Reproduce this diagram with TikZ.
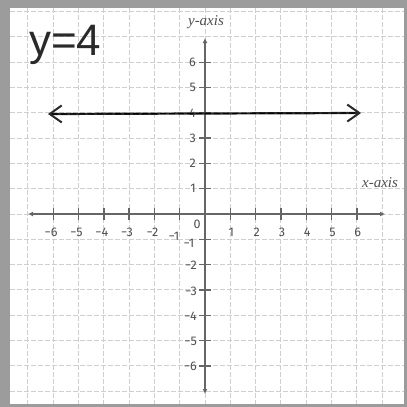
\documentclass[tikz,border=0pt]{standalone}
\usepackage{fontspec}
\usetikzlibrary{arrows.meta}
\newfontfamily\numfont{Fira Sans}
\newfontfamily\handfont{Liberation Sans}
\newfontfamily\axfont{Liberation Serif}
\definecolor{framec}{HTML}{9C9C9C}
\definecolor{gridc}{HTML}{CFCFCF}
\definecolor{axisc}{HTML}{666666}
\definecolor{labc}{HTML}{505050}
\definecolor{ink}{HTML}{2A2A2A}
\tikzset{
  gridline/.style={gridc, line width=0.9pt, dash pattern=on 5pt off 2pt},
  axisline/.style={axisc, line width=2.4pt, {Latex[length=5pt,width=5pt]}-{Latex[length=5pt,width=5pt]}},
  tickline/.style={axisc, line width=1.4pt},
  numlab/.style={text=labc, font=\numfont\fontsize{12.5}{13}\selectfont, inner sep=0pt},
  axlab/.style={text=labc, font=\axfont\itshape\fontsize{15}{15}\selectfont, inner sep=0pt},
  eqline/.style={ink, line width=2.2pt, {Straight Barb[length=12pt,width=17pt,line width=2pt]}-{Straight Barb[length=12pt,width=17pt,line width=2pt]}},
  eqdash/.style={black, line width=1.1pt, dash pattern=on 6pt off 3pt},
  handtext/.style={text=ink, font=\handfont\fontsize{44}{44}\selectfont, inner sep=0pt}
}
\begin{document}
\begin{tikzpicture}[x=1pt,y=-1pt]
\useasboundingbox (0,0) rectangle (407,407);
% frame
\fill[framec] (0,0) rectangle (407,407);
\fill[white] (10,8) rectangle (404,404);
% grid
\begin{scope}
\clip (10,8) rectangle (404,404);
\foreach \i in {-8,...,8} {
  \draw[gridline] ({205+\i*25.3},8) -- ({205+\i*25.3},404);
}
\foreach \j in {-8,...,8} {
  \draw[gridline] (10,{214+\j*25.3}) -- (404,{214+\j*25.3});
}
\end{scope}
% axes
\coordinate (O) at (205,214);
\coordinate (xl) at (28,214);
\coordinate (xr) at (385,214);
\coordinate (yt) at (205,38);
\coordinate (yb) at (205,394);
\draw[axisline] (xl) -- (xr);
\draw[axisline] (yb) -- (yt);
% ticks
\foreach \i in {-6,...,-1,1,2,...,6} {
  \draw[tickline] ({205+\i*25.3},208) -- ({205+\i*25.3},220);
  \draw[tickline] (199,{214+\i*25.3}) -- (211,{214+\i*25.3});
}
% x labels
\foreach \i in {2,...,6} {
  \node[numlab, anchor=north] (xn\i) at ({203-\i*25.3},228) {−\i};
}
\node[numlab] (xn1) at (174,236) {−1};
\foreach \i in {1,...,6} {
  \node[numlab, anchor=north] (xp\i) at ({206+\i*25.3},228) {\i};
}
\node[numlab] (zero) at (197,224) {0};
% y labels
\foreach \i in {1,...,6} {
  \node[numlab, anchor=east] (yp\i) at (196,{214-\i*25.3}) {\i};
}
\foreach \i in {2,...,6} {
  \node[numlab, anchor=east] (yn\i) at (197,{215+\i*25.3}) {−\i};
}
\node[numlab] (yn1) at (189,243) {−1};
% axis names
\node[axlab] (ylab) at (206,22) {y-axis};
\node[axlab] (xlab) at (380,183) {x-axis};
% equation line y=4
\coordinate (L) at (48,114);
\coordinate (R) at (361,113);
\draw[eqline] (L) -- (R);
\draw[eqdash] ([xshift=4pt]L) -- ([xshift=-4pt]R);
% handwritten equation
\node[handtext, anchor=base west] (eq) at (29,55) {y=4};
\end{tikzpicture}
\end{document}
